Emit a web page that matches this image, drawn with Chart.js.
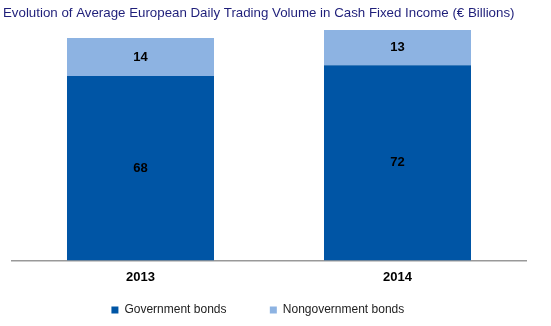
<!DOCTYPE html>
<html>
<head>
<meta charset="utf-8">
<script src="https://cdn.jsdelivr.net/npm/chart.js@4"></script>
<style>
  html, body { margin: 0; padding: 0; background: #fff; }
  #wrap { width: 551px; height: 326px; }
</style>
</head>
<body>
<div id="wrap"><canvas id="chart"></canvas></div>
<script>
// Chart data
const years = ['2013', '2014'];
const governmentBonds = [68, 72];
const nongovernmentBonds = [14, 13];

// Draw the value in the middle of each bar segment
const barValueLabels = {
    id: 'barValueLabels',
    afterDatasetsDraw(chart) {
        const ctx = chart.ctx;
        ctx.save();
        ctx.font = 'bold 13px "Liberation Sans", Arial, sans-serif';
        ctx.fillStyle = '#000';
        ctx.textAlign = 'center';
        ctx.textBaseline = 'middle';
        chart.data.datasets.forEach((ds, i) => {
            chart.getDatasetMeta(i).data.forEach((bar, j) => {
                const mid = (bar.y + bar.base) / 2;
                ctx.fillText(ds.data[j], bar.x, mid);
            });
        });
        ctx.restore();
    }
};

// extra trailing space per legend item so the items sit further apart
const legendGap = ['          ', '    '];

const ctx = document.getElementById('chart').getContext('2d');
new Chart(ctx, {
    type: 'bar',
    data: {
        labels: years,
        datasets: [{
            label: 'Government bonds',
            data: governmentBonds,
            backgroundColor: '#0055A5'
        }, {
            label: 'Nongovernment bonds',
            data: nongovernmentBonds,
            backgroundColor: '#8DB3E2'
        }]
    },
    options: {
        responsive: true,
        maintainAspectRatio: false,
        animation: false,
        layout: { padding: { left: 3, right: 25, top: 0, bottom: 0 } },
        datasets: {
            bar: { categoryPercentage: 1, barPercentage: 0.572 }
        },
        scales: {
            x: {
                stacked: true,
                grid: { display: false, drawTicks: false },
                border: { color: '#999', width: 1.5 },
                ticks: {
                    color: '#000',
                    padding: 9,
                    font: { family: '"Liberation Sans", Arial, sans-serif', size: 13, weight: 'bold' }
                }
            },
            y: {
                stacked: true,
                min: 0,
                max: 85,
                grid: { display: false, drawTicks: false },
                border: { display: false },
                ticks: { display: false },
                afterFit(scale) { scale.width = 9; }
            }
        },
        plugins: {
            title: {
                display: true,
                text: 'Evolution of Average European Daily Trading Volume in Cash Fixed Income (€ Billions)',
                align: 'start',
                color: '#1F1F7A',
                font: { family: '"Liberation Sans", Arial, sans-serif', size: 13.3, weight: 'normal' },
                padding: { top: 5, bottom: 9 }
            },
            legend: {
                position: 'bottom',
                labels: {
                    color: '#222',
                    boxWidth: 7,
                    boxHeight: 7,
                    padding: 10,
                    font: { family: '"Liberation Sans", Arial, sans-serif', size: 12 },
                    generateLabels(chart) {
                        const items = Chart.defaults.plugins.legend.labels.generateLabels(chart);
                        items.forEach((item, i) => { item.text = item.text + legendGap[i]; });
                        return items;
                    }
                }
            },
            tooltip: { enabled: false }
        }
    },
    plugins: [barValueLabels]
});
</script>
</body>
</html>
